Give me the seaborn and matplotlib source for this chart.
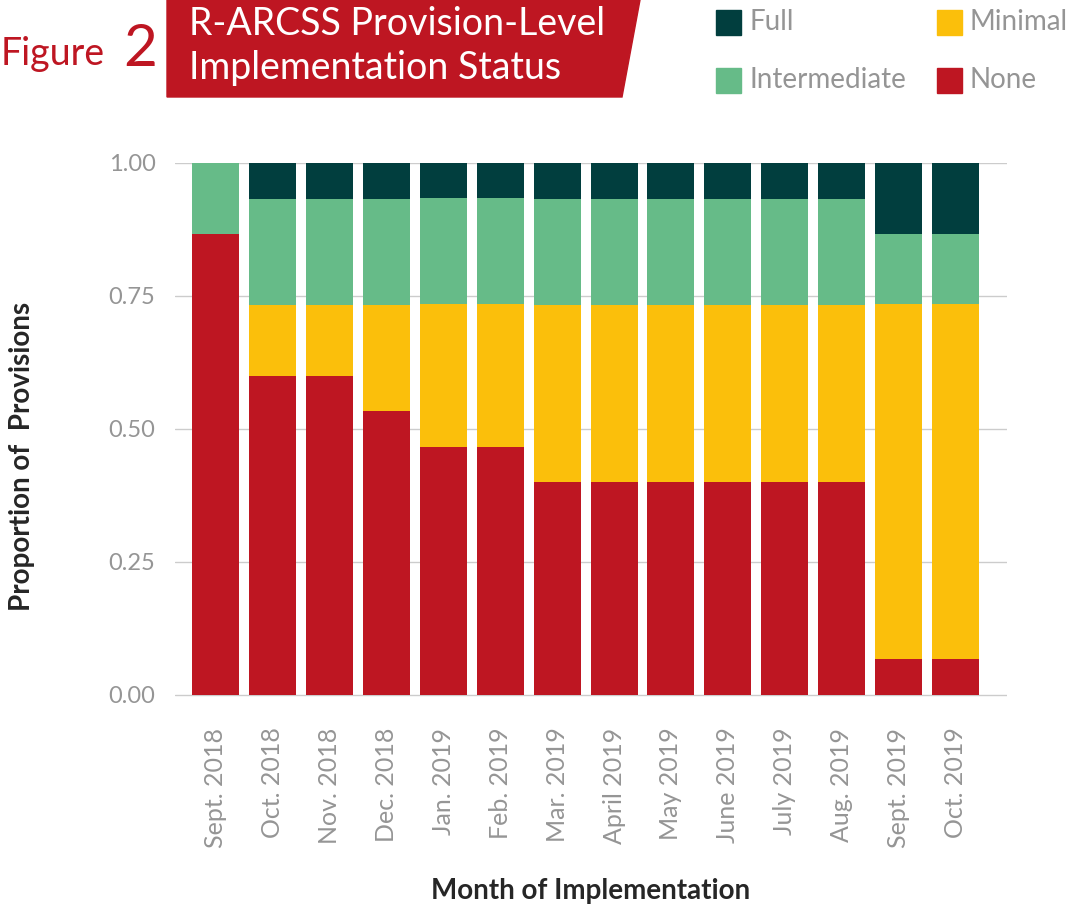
import numpy as np
import pandas as pd
import seaborn as sns
import matplotlib.pyplot as plt
from matplotlib.patches import Polygon, Rectangle

months = ["Sept. 2018", "Oct. 2018", "Nov. 2018", "Dec. 2018", "Jan. 2019",
          "Feb. 2019", "Mar. 2019", "April 2019", "May 2019", "June 2019",
          "July 2019", "Aug. 2019", "Sept. 2019", "Oct. 2019"]

# proportion of provisions per status
none = [0.867, 0.600, 0.600, 0.533, 0.467, 0.467, 0.400, 0.400, 0.400, 0.400, 0.400, 0.400, 0.067, 0.067]
minimal = [0.000, 0.133, 0.133, 0.200, 0.267, 0.267, 0.333, 0.333, 0.333, 0.333, 0.333, 0.333, 0.667, 0.667]
intermediate = [0.133, 0.200, 0.200, 0.200, 0.200, 0.200, 0.200, 0.200, 0.200, 0.200, 0.200, 0.200, 0.133, 0.133]
full = [0.000, 0.067, 0.067, 0.067, 0.067, 0.067, 0.067, 0.067, 0.067, 0.067, 0.067, 0.067, 0.133, 0.133]

statuses = ["None", "Minimal", "Intermediate", "Full"]
colors = {"None": "#be1622", "Minimal": "#fbbf0b", "Intermediate": "#66bb88", "Full": "#013e3e"}

df = pd.DataFrame({"month": months, "None": none, "Minimal": minimal,
                   "Intermediate": intermediate, "Full": full})
cum = df[statuses].cumsum(axis=1)
cum["month"] = months

sns.set_style("white")
plt.rcParams["font.family"] = ["Lato", "DejaVu Sans"]

fig = plt.figure(figsize=(10.73, 9.05), dpi=100)
ax = fig.add_axes([0.163, 0.2298, 0.7755, 0.5901])

# draw stacks from the top down so each layer covers the one above
for status in statuses[::-1]:
    sns.barplot(data=cum, x="month", y=status, color=colors[status],
                width=0.825, saturation=1, linewidth=0, ax=ax, zorder=3)

ax.set_ylim(-0.004, 1.0)
ax.set_xlim(-0.71, 13.9)
ax.set_yticks([0, 0.25, 0.5, 0.75, 1.0])
ax.set_yticklabels(["0.00", "0.25", "0.50", "0.75", "1.00"])
ax.yaxis.grid(True, color="#cccccc", lw=1, zorder=0)
for s in ax.spines.values():
    s.set_visible(False)

grey = "#959595"
ax.tick_params(axis="y", length=0, labelsize=17, labelcolor=grey, pad=14)
ax.tick_params(axis="x", length=16, width=1, color="#d0d0d0", labelsize=18,
               labelcolor=grey, pad=6)
plt.setp(ax.get_xticklabels(), rotation=90)

ax.set_xlabel("Month of Implementation", fontsize=20, fontweight="bold", labelpad=22)
ax.set_ylabel("Proportion of  Provisions", fontsize=20, fontweight="bold")
ax.yaxis.set_label_coords(-0.168, 0.45)

# title banner
fig.patches.append(Polygon([[167 / 1073, 1], [640 / 1073, 1], [622 / 1073, 1 - 97 / 905],
                            [167 / 1073, 1 - 97 / 905]], closed=True,
                           transform=fig.transFigure, color="#be1622"))
fig.text(0.001, 1 - 54 / 905, "Figure", color="#be1622", fontsize=27,
         va="center", ha="left")
fig.text(123 / 1073, 1 - 50 / 905, "2", color="#be1622", fontsize=42,
         va="center", ha="left")
fig.text(189 / 1073, 1 - 24 / 905, "R-ARCSS Provision-Level", color="white",
         fontsize=27, va="center", ha="left")
fig.text(189 / 1073, 1 - 68 / 905, "Implementation Status", color="white",
         fontsize=27, va="center", ha="left")

# legend
legend_items = [("Full", 716, 10), ("Minimal", 937, 10),
                ("Intermediate", 716, 68), ("None", 937, 68)]
for name, x0, y0 in legend_items:
    fig.patches.append(Rectangle((x0 / 1073, 1 - (y0 + 25) / 905), 25 / 1073, 25 / 905,
                                 transform=fig.transFigure, color=colors[name]))
    fig.text((x0 + 33) / 1073, 1 - (y0 + 12) / 905, name, color=grey,
             fontsize=20, va="center", ha="left")

fig.savefig("out.png", dpi=100)
